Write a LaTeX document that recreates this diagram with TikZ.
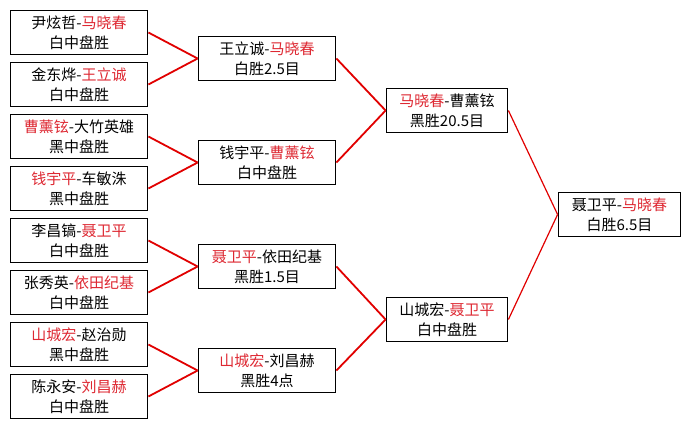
\documentclass[tikz,border=0pt]{standalone}
\usepackage{fontspec}
\newfontfamily\cjk{Noto Sans CJK SC}
\definecolor{winred}{RGB}{222,40,50}
\definecolor{linkred}{RGB}{225,0,0}
\newcommand{\win}[1]{\textcolor{winred}{#1}}

\begin{document}
\begin{tikzpicture}[x=1pt,y=-1pt,
		match/.style={draw,line width=1.8pt,inner sep=0pt,minimum width=137pt,minimum height=44pt,
			align=center,font=\cjk\fontsize{15}{20}\selectfont},
		semi/.style={match,minimum width=121pt},
		link/.style={linkred,line width=1.8pt},
		thinlink/.style={linkred,line width=1.2pt}]
		\useasboundingbox[fill=white] (0,0) rectangle (691,429);
		% first round
		\node[match] (r1a) at (79,32.5) {尹炫哲-\win{马晓春}\\白中盘胜};
		\node[match] (r1b) at (79,84.5) {金东烨-\win{王立诚}\\白中盘胜};
		\node[match] (r1c) at (79,136.5) {\win{曹薰铉}-大竹英雄\\黑中盘胜};
		\node[match] (r1d) at (79,188.5) {\win{钱宇平}-车敏洙\\黑中盘胜};
		\node[match] (r1e) at (79,240.5) {李昌镐-\win{聂卫平}\\白中盘胜};
		\node[match] (r1f) at (79,292.5) {张秀英-\win{依田纪基}\\白中盘胜};
		\node[match] (r1g) at (79,344.5) {\win{山城宏}-赵治勋\\黑中盘胜};
		\node[match] (r1h) at (79,396.5) {陈永安-\win{刘昌赫}\\白中盘胜};
		% second round
		\node[match] (r2a) at (267,58.5) {王立诚-\win{马晓春}\\白胜2.5目};
		\node[match] (r2b) at (267,162.5) {钱宇平-\win{曹薰铉}\\白中盘胜};
		\node[match] (r2c) at (267,266.5) {\win{聂卫平}-依田纪基\\黑胜1.5目};
		\node[match] (r2d) at (267,370.5) {\win{山城宏}-刘昌赫\\黑胜4点};
		% semi-finals
		\node[semi] (r3a) at (447,110.5) {\win{马晓春}-曹薰铉\\黑胜20.5目};
		\node[semi] (r3b) at (447,319.5) {山城宏-\win{聂卫平}\\白中盘胜};
		% final
		\node[semi,minimum width=122pt] (fin) at (619.5,214.5) {聂卫平-\win{马晓春}\\白胜6.5目};

		\draw[link] (r1a.east) -- (r2a.west);
		\draw[link] (r1b.east) -- (r2a.west);
		\draw[link] (r1c.east) -- (r2b.west);
		\draw[link] (r1d.east) -- (r2b.west);
		\draw[link] (r1e.east) -- (r2c.west);
		\draw[link] (r1f.east) -- (r2c.west);
		\draw[link] (r1g.east) -- (r2d.west);
		\draw[link] (r1h.east) -- (r2d.west);
		\draw[link] (r2a.east) -- (r3a.west);
		\draw[link] (r2b.east) -- (r3a.west);
		\draw[link] (r2c.east) -- (r3b.west);
		\draw[link] (r2d.east) -- (r3b.west);
		\draw[thinlink] (r3a.east) -- (fin.west);
		\draw[thinlink] (r3b.east) -- (fin.west);
	\end{tikzpicture}
\end{document}
